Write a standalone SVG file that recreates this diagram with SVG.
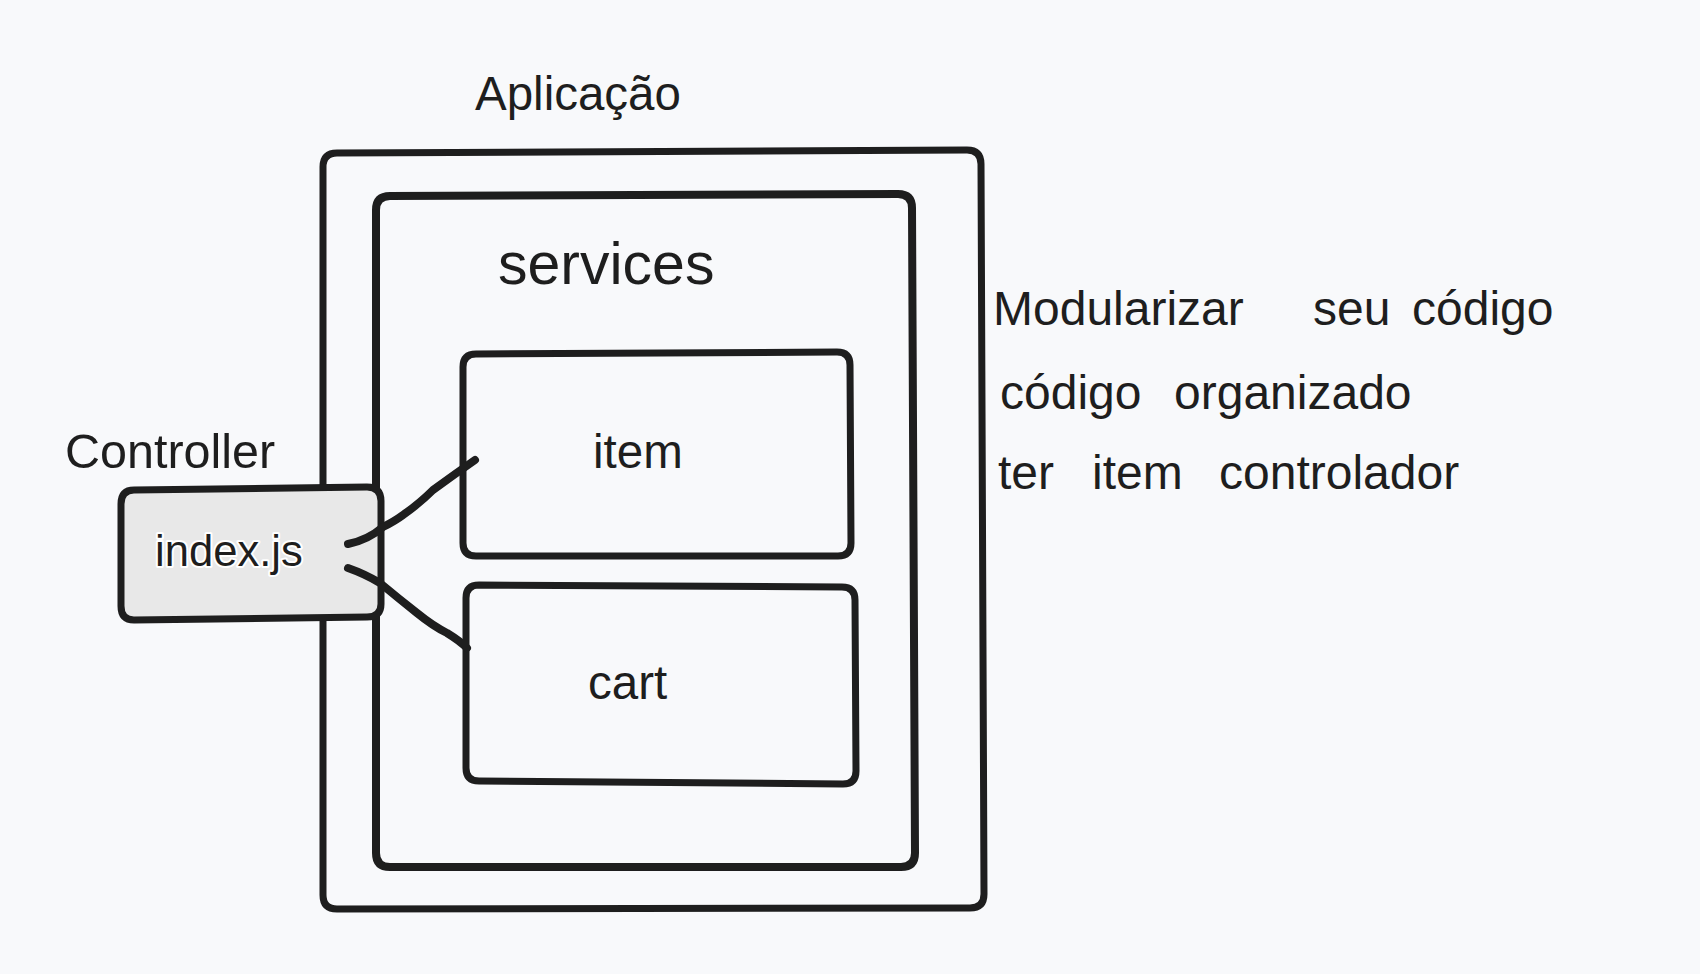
<svg xmlns="http://www.w3.org/2000/svg" width="1700" height="974" viewBox="0 0 1700 974">
<style>
.box{fill:none;stroke:#1e1e1e;stroke-linejoin:round;stroke-linecap:round}
.t{font-family:"Liberation Sans",Arial,sans-serif;fill:#1e1e1e}
.conn{fill:none;stroke:#1e1e1e;stroke-width:8;stroke-linecap:round;stroke-linejoin:round}
</style>
<rect width="1700" height="974" fill="#f8f9fb"/>
<g id="aplicacao">
<path class="box" stroke-width="7" d="M337,153 L967,150 Q981,150 981,164 L984,894 Q984,908 970,908 L337,909 Q323,909 323,895 L323,167 Q323,153 337,153 Z"/>
<text class="t" x="475" y="110" font-size="47.5">Aplicação</text>
</g>
<g id="services">
<path class="box" stroke-width="8" d="M390,196 L898,194 Q912,194 912,208 L915,853 Q915,867 901,867 L390,867 Q376,867 376,853 L376,210 Q376,196 390,196 Z"/>
<text class="t" x="498" y="284" font-size="59">services</text>
</g>
<g id="item">
<path class="box" stroke-width="7" d="M476,354 L837,352 Q850,352 850,365 L851,543 Q851,556 838,556 L476,556 Q463,556 463,543 L463,367 Q463,354 476,354 Z"/>
<text class="t" x="593" y="468" font-size="47.5">item</text>
</g>
<g id="cart">
<path class="box" stroke-width="7" d="M479,585 L842,587 Q855,587 855,600 L856,771 Q856,784 843,784 L479,781 Q466,781 466,768 L466,598 Q466,585 479,585 Z"/>
<text class="t" x="588" y="699" font-size="47.5">cart</text>
</g>
<g id="controller">
<path class="box" stroke-width="7" style="fill:#e8e8e8" d="M134,490 L367,487 Q381,487 381,501 L381,604 Q381,617 367,617 L134,620 Q121,620 121,606 L121,504 Q121,490 134,490 Z"/>
<text class="t" x="155" y="566" font-size="43.6" stroke="#ffffff" stroke-width="4" paint-order="stroke" stroke-linejoin="round">index.js</text>
<text class="t" x="65" y="468" font-size="48.5">Controller</text>
</g>
<g id="connectors">
<path class="conn" d="M348,544 Q368,540 383,527 Q395,521 403,515 Q420,503 433,490 Q455,474 475,460"/>
<path class="conn" d="M348,568 Q365,574 380,583 Q398,598 417,613 Q433,626 447,633 Q460,641 467,648"/>
</g>
<g id="notes">
<text class="t" font-size="48"><tspan x="993" y="325">Modularizar</tspan><tspan x="1313" y="325">seu</tspan><tspan x="1412" y="325">código</tspan></text>
<text class="t" font-size="48"><tspan x="1000" y="409">código</tspan><tspan x="1174" y="409">organizado</tspan></text>
<text class="t" font-size="48"><tspan x="998" y="489">ter</tspan><tspan x="1092" y="489">item</tspan><tspan x="1219" y="489">controlador</tspan></text>
</g>
</svg>
